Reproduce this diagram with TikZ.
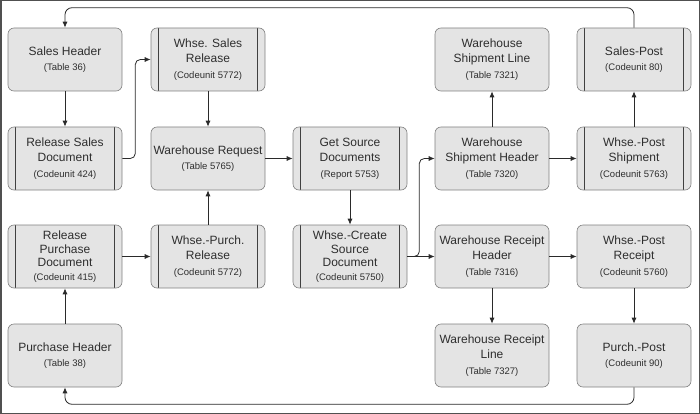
\documentclass[tikz,border=0pt]{standalone}
\usepackage{fontspec}
\setmainfont{Liberation Sans}
\usetikzlibrary{arrows.meta}
\definecolor{boxfill}{HTML}{E4E4E4}
\definecolor{boxline}{HTML}{808080}
\definecolor{barcol}{HTML}{404040}
\definecolor{txt}{HTML}{2E2E2E}
\definecolor{conncol}{HTML}{2A2A2A}
\definecolor{framecol}{HTML}{505050}
\newcommand\smtxt[1]{{\fontsize{9.5}{15}\selectfont #1}}
\tikzset{
  box/.style={rectangle, rounded corners=6pt, fill=boxfill, draw=boxline, line width=0.6pt,
    minimum width=114pt, minimum height=63pt, inner sep=0pt, align=center,
    text=txt, font=\fontsize{12}{15.5}\selectfont},
  tightbox/.style={box, font=\fontsize{12}{13.6}\selectfont},
  bars/.style={path picture={
    \draw[barcol, line width=0.8pt]
      ([xshift=7.5pt]path picture bounding box.north west) -- ([xshift=7.5pt]path picture bounding box.south west)
      ([xshift=-7.5pt]path picture bounding box.north east) -- ([xshift=-7.5pt]path picture bounding box.south east);}},
  conn/.style={draw=conncol, line width=0.8pt, -{Latex[length=6pt,width=5pt]}},
}
\begin{document}
\begin{tikzpicture}[x=1pt,y=-1pt]
\useasboundingbox (0,0) rectangle (700,414);
\draw[framecol, line width=1.5pt] (0.75,0.75) rectangle (699.25,413.25);

% column 1
\node[box] (SH) at (65,59.5) {Sales Header\\\smtxt{(Table 36)}};
\node[box,bars] (RSD) at (65,158.5) {Release Sales\\Document\\\smtxt{(Codeunit 424)}};
\node[tightbox,bars] (RPD) at (65,256.5) {Release\\Purchase\\Document\\\smtxt{(Codeunit 415)}};
\node[box] (PH) at (65,355.5) {Purchase Header\\\smtxt{(Table 38)}};
% column 2
\node[box,bars] (WSR) at (208,59.5) {Whse. Sales\\Release\\\smtxt{(Codeunit 5772)}};
\node[box] (WR) at (208,158.5) {Warehouse Request\\\smtxt{(Table 5765)}};
\node[box,bars] (WPR) at (208,256.5) {Whse.-Purch.\\Release\\\smtxt{(Codeunit 5772)}};
% column 3
\node[box,bars] (GSD) at (350,158.5) {Get Source\\Documents\\\smtxt{(Report 5753)}};
\node[tightbox,bars] (WCS) at (350,256.5) {Whse.-Create\\Source\\Document\\\smtxt{(Codeunit 5750)}};
% column 4
\node[box] (WSL) at (492,59.5) {Warehouse\\Shipment Line\\\smtxt{(Table 7321)}};
\node[box] (WSH) at (492,158.5) {Warehouse\\Shipment Header\\\smtxt{(Table 7320)}};
\node[box] (WRH) at (492,256.5) {Warehouse Receipt\\Header\\\smtxt{(Table 7316)}};
\node[box] (WRL) at (492,355.5) {Warehouse Receipt\\Line\\\smtxt{(Table 7327)}};
% column 5
\node[box,bars] (SP) at (634,59.5) {Sales-Post\\\smtxt{(Codeunit 80)}};
\node[box,bars] (WPS) at (634,158.5) {Whse.-Post\\Shipment\\\smtxt{(Codeunit 5763)}};
\node[box] (WPRc) at (634,256.5) {Whse.-Post\\Receipt\\\smtxt{(Codeunit 5760)}};
\node[box] (PP) at (634,355.5) {Purch.-Post\\\smtxt{(Codeunit 90)}};

% connectors
\draw[conn] (SH) -- (RSD);
\draw[conn, rounded corners=5pt] (RSD.east) -- ++(13,0) |- (WSR.west);
\draw[conn] (WSR) -- (WR);
\draw[conn] (WPR) -- (WR);
\draw[conn] (RPD) -- (WPR);
\draw[conn] (PH) -- (RPD);
\draw[conn] (WR) -- (GSD);
\draw[conn] (GSD) -- (WCS);
\draw[conn] (WCS) -- (WRH);
\draw[conn, rounded corners=5pt] (WCS.east) -- ++(12,0) |- (WSH.west);
\draw[conn] (WSH) -- (WSL);
\draw[conn] (WSH) -- (WPS);
\draw[conn] (WPS) -- (SP);
\draw[conn] (WRH) -- (WRL);
\draw[conn] (WRH) -- (WPRc);
\draw[conn] (WPRc) -- (PP);
\draw[conn, rounded corners=7pt] (SP.north) -- ++(0,-20) -| (SH.north);
\draw[conn, rounded corners=7pt] (PP.south) -- ++(0,17) -| (PH.south);
\end{tikzpicture}
\end{document}
